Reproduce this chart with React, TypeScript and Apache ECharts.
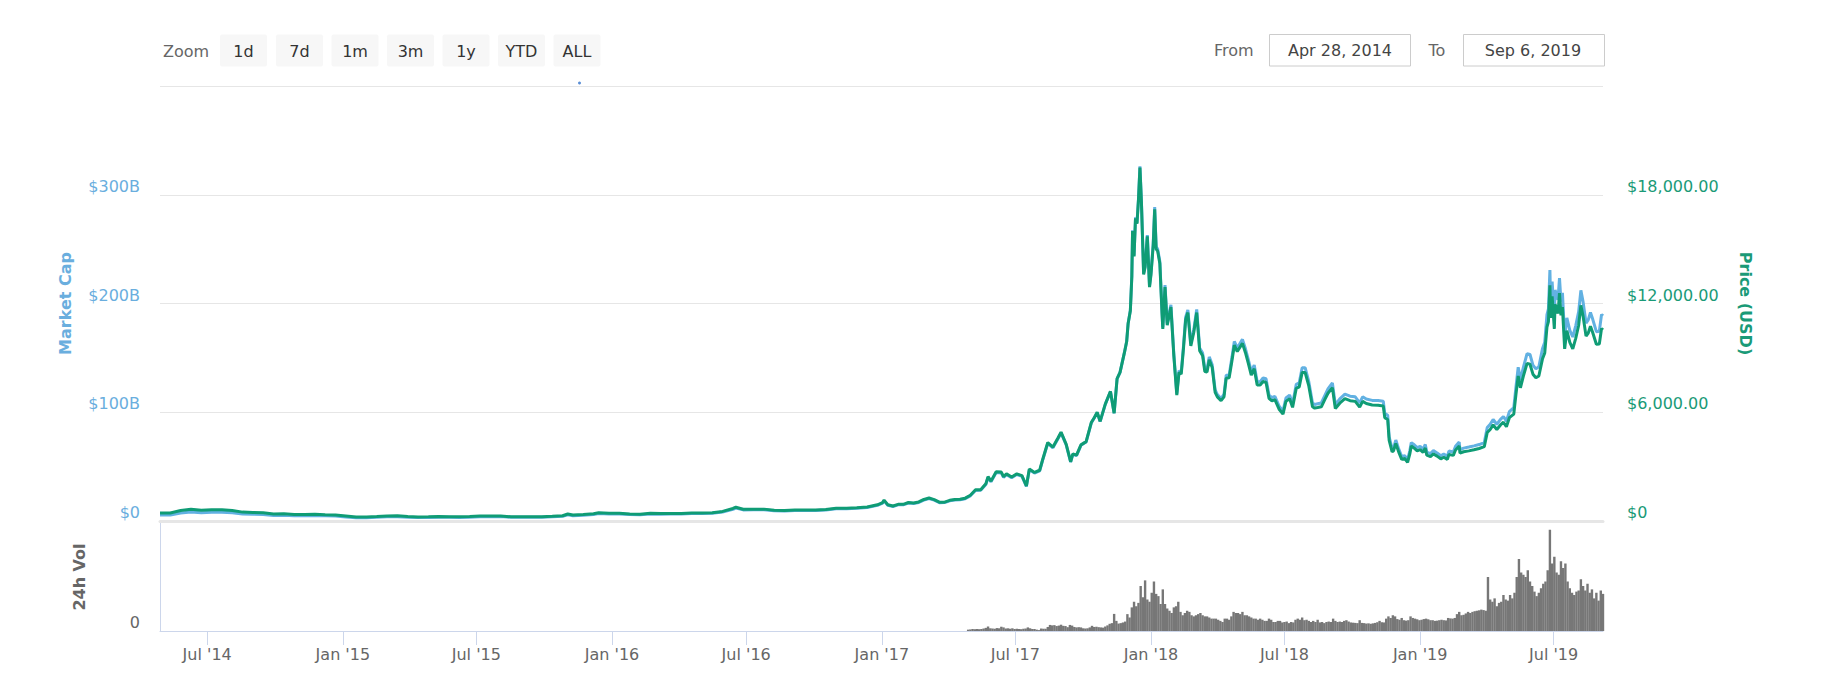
import React, { useEffect, useRef } from "react";
import * as echarts from "echarts";

// ---------- DATA ----------
const priceDates: string[] = [
  "2014-04-28","2014-05-12","2014-05-26","2014-06-09","2014-06-23","2014-07-07","2014-07-21","2014-08-04","2014-08-18","2014-09-01","2014-09-15","2014-09-29","2014-10-13","2014-10-27","2014-11-10","2014-11-24","2014-12-08","2014-12-22",
  "2015-01-05","2015-01-19","2015-02-02","2015-02-16","2015-03-02","2015-03-16","2015-03-30","2015-04-13","2015-04-27","2015-05-11","2015-05-25","2015-06-08","2015-06-22","2015-07-06","2015-07-20","2015-08-03","2015-08-17","2015-08-31","2015-09-14","2015-09-28","2015-10-12","2015-10-26","2015-11-02","2015-11-09","2015-11-23","2015-12-07","2015-12-14","2015-12-28",
  "2016-01-11","2016-01-25","2016-02-08","2016-02-22","2016-03-07","2016-03-21","2016-04-04","2016-04-18","2016-05-02","2016-05-16","2016-05-30","2016-06-13","2016-06-17","2016-06-27","2016-07-11","2016-07-25","2016-08-08","2016-08-22","2016-09-05","2016-09-19","2016-10-03","2016-10-17","2016-10-31","2016-11-14","2016-11-28","2016-12-12","2016-12-26",
  "2017-01-02","2017-01-04","2017-01-09","2017-01-16","2017-01-23","2017-01-30","2017-02-06","2017-02-13","2017-02-20","2017-02-27","2017-03-06","2017-03-13","2017-03-20","2017-03-27","2017-04-03","2017-04-10","2017-04-17","2017-04-24","2017-05-01","2017-05-08","2017-05-15","2017-05-22","2017-05-25","2017-05-29","2017-06-05","2017-06-12","2017-06-15","2017-06-19","2017-06-26","2017-07-03","2017-07-10","2017-07-16","2017-07-20","2017-07-27","2017-08-03","2017-08-07","2017-08-14","2017-08-21","2017-08-28","2017-09-01","2017-09-08","2017-09-14","2017-09-17","2017-09-22","2017-09-28","2017-10-05","2017-10-12","2017-10-16","2017-10-20","2017-10-24","2017-10-31","2017-11-07","2017-11-12","2017-11-16","2017-11-20","2017-11-26","2017-11-29","2017-12-01","2017-12-04","2017-12-06","2017-12-07","2017-12-09","2017-12-11","2017-12-13","2017-12-15","2017-12-17","2017-12-19","2017-12-22","2017-12-24","2017-12-27","2017-12-30",
  "2018-01-01","2018-01-04","2018-01-06","2018-01-08","2018-01-10","2018-01-13","2018-01-16","2018-01-17","2018-01-20","2018-01-23","2018-01-28","2018-02-01","2018-02-05","2018-02-08","2018-02-11","2018-02-14","2018-02-17","2018-02-20","2018-02-24","2018-02-28","2018-03-04","2018-03-08","2018-03-12","2018-03-15","2018-03-18","2018-03-21","2018-03-25","2018-03-29","2018-04-01","2018-04-06","2018-04-10","2018-04-13","2018-04-17","2018-04-21","2018-04-24","2018-04-28","2018-05-05","2018-05-09","2018-05-13","2018-05-17","2018-05-21","2018-05-25","2018-05-29","2018-06-02","2018-06-06","2018-06-10","2018-06-14","2018-06-18","2018-06-24","2018-06-29","2018-07-03","2018-07-08","2018-07-12","2018-07-17","2018-07-21","2018-07-25","2018-07-29","2018-08-03","2018-08-08","2018-08-11","2018-08-15","2018-08-20","2018-08-25","2018-08-29","2018-09-04","2018-09-08","2018-09-14","2018-09-21","2018-09-28","2018-10-05","2018-10-11","2018-10-15","2018-10-20","2018-10-28","2018-11-05","2018-11-12","2018-11-14","2018-11-18","2018-11-20","2018-11-24","2018-11-26","2018-11-29","2018-12-03","2018-12-07","2018-12-11","2018-12-15","2018-12-18","2018-12-20","2018-12-24","2018-12-28",
  "2019-01-01","2019-01-05","2019-01-08","2019-01-10","2019-01-15","2019-01-19","2019-01-24","2019-01-29","2019-02-02","2019-02-07","2019-02-09","2019-02-15","2019-02-18","2019-02-23","2019-02-24","2019-03-01","2019-03-08","2019-03-15","2019-03-22","2019-03-29","2019-04-02","2019-04-06","2019-04-10","2019-04-15","2019-04-20","2019-04-24","2019-04-28","2019-05-02","2019-05-08","2019-05-11","2019-05-14","2019-05-17","2019-05-21","2019-05-26","2019-05-30","2019-06-03","2019-06-07","2019-06-11","2019-06-16","2019-06-19","2019-06-22","2019-06-24","2019-06-26","2019-06-27","2019-06-29","2019-07-02","2019-07-03","2019-07-07","2019-07-09","2019-07-11","2019-07-13","2019-07-16","2019-07-19","2019-07-23","2019-07-27","2019-07-31","2019-08-04","2019-08-07","2019-08-10","2019-08-14","2019-08-17","2019-08-20","2019-08-23","2019-08-28","2019-09-01","2019-09-04","2019-09-06",
];

const priceUsd: number[] = [
  440,440,580,650,590,625,620,585,490,475,460,385,395,355,365,375,350,330,
  275,215,225,245,275,285,250,223,230,242,238,230,245,270,278,282,235,230,232,238,262,292,385,330,360,395,455,430,
  430,392,378,430,412,413,420,443,448,455,530,690,760,650,650,655,590,585,607,610,612,638,700,705,735,775,895,
  1020,1150,900,830,920,920,1020,995,1050,1190,1270,1180,1040,1040,1140,1185,1200,1260,1420,1720,1730,2050,2450,2200,2720,2700,2450,2600,2430,2600,2500,1930,2870,2680,2800,3380,4330,4080,4590,4900,4230,3270,3700,3630,4200,4380,5430,5700,6000,5500,6450,7150,5950,7850,8200,9300,9900,10900,11600,13500,16000,14600,16700,16400,17700,19500,17600,13600,14000,15700,12900,
  13600,15200,17200,15000,14900,14200,11400,10600,12900,10800,11800,9100,6950,8200,8100,9500,11100,11500,9660,10400,11500,9400,9120,8250,8220,8900,8470,7100,6850,6640,6850,7880,7900,8900,9700,9350,9800,9300,8700,8050,8400,7500,7500,7700,7650,6770,6630,6700,6150,5900,6600,6750,6270,7320,7400,8200,8200,7450,6300,6230,6260,6300,6720,7050,7360,6200,6500,6750,6640,6600,6280,6600,6480,6400,6380,6350,5700,5600,4450,3820,3880,4280,3800,3400,3450,3240,3700,4140,4020,3870,
  3940,3790,4030,3630,3550,3700,3580,3430,3520,3400,3670,3620,3920,4140,3740,3820,3870,3930,4000,4100,4880,5050,5300,5050,5300,5450,5200,5700,5900,7000,8000,7350,7990,8700,8650,8100,7900,8000,8950,9270,10700,11000,13000,11200,12400,10600,11960,11450,12570,11350,11800,9500,10500,9850,9500,10080,10800,11900,11300,10200,10370,10740,10400,9750,9760,10620,10550,
];

const marketCapB: number[] = [
  5.55,5.58,7.39,8.32,7.59,8.08,8.05,7.63,6.42,6.25,6.08,5.11,5.27,4.76,4.91,5.07,4.75,4.50,
  3.76,2.95,3.10,3.39,3.82,3.97,3.50,3.13,3.24,3.42,3.38,3.28,3.51,3.88,4.01,4.08,3.41,3.35,3.39,3.49,3.86,4.32,5.70,4.89,5.36,5.90,6.81,6.45,
  6.48,5.92,5.73,6.54,6.29,6.33,6.46,6.84,6.94,7.07,8.26,10.79,11.90,10.21,10.24,10.34,9.33,9.27,9.63,9.70,9.75,10.18,11.20,11.29,11.80,12.45,14.39,
  16.41,18.52,14.50,13.38,14.85,14.86,16.48,16.10,17.00,19.28,20.59,19.15,16.89,16.90,18.54,19.29,19.55,20.54,23.16,28.09,28.27,33.52,40.06,35.99,44.55,44.25,40.16,42.64,39.88,42.69,41.10,31.75,47.21,44.11,46.14,55.74,71.45,67.36,75.83,81.00,69.96,54.12,61.24,60.11,69.59,72.62,90.08,94.62,99.66,91.36,107.3,119.0,99.07,130.8,136.7,155.1,165.1,181.9,193.7,225.5,267.4,244.0,279.2,274.2,296.1,326.2,294.6,227.7,234.5,263.0,216.2,
  228.1,255.1,288.6,251.9,250.2,238.6,191.6,178.2,217.0,181.7,198.7,153.3,117.2,138.3,136.6,160.4,187.4,194.2,163.3,175.9,194.6,159.0,154.4,139.8,139.3,150.9,143.6,120.5,116.2,112.7,116.4,134.0,134.3,151.4,165.1,159.1,167.0,158.6,148.3,137.3,143.4,128.1,128.1,131.6,130.8,115.8,113.4,114.7,105.3,101.1,113.1,115.8,107.6,125.7,127.1,140.9,141.0,128.1,108.4,107.2,107.8,108.5,115.8,121.5,127.0,107.0,112.3,116.6,114.8,114.2,108.7,114.2,112.2,110.9,110.7,110.2,99.0,97.3,77.3,66.4,67.4,74.4,66.1,59.2,60.1,56.4,64.5,72.1,70.1,67.5,
  68.7,66.1,70.4,63.4,62.0,64.7,62.6,60.0,61.6,59.5,64.3,63.4,68.7,72.6,65.6,67.0,68.0,69.1,70.3,72.1,85.9,88.9,93.3,89.0,93.4,96.1,91.7,100.6,104.2,123.6,141.4,129.9,141.3,153.9,153.1,143.4,139.9,141.8,158.7,164.4,189.8,195.1,230.8,198.8,220.1,188.3,212.4,203.5,223.4,201.8,209.8,169.0,186.8,175.3,169.2,179.5,192.5,212.1,201.5,182.0,185.0,191.7,185.7,174.1,174.4,189.9,188.6,
];

// 24h volume, $B, one bar every 3 days from 2017-04-28
const volumeStart = [2017, 3, 28];
const volumeStepDays = 3;
const volumeB: number[] = [
  0.6,0.7,0.9,0.8,0.9,0.8,0.9,1.1,1.4,2.0,1.2,
  1.1,1.0,1.3,1.2,1.9,1.6,1.1,1.2,1.0,1.2,0.9,1.0,0.9,0.8,1.0,1.1,1.6,1.2,0.9,0.9,
  0.6,0.4,1.1,1.0,1.0,1.8,2.7,2.5,2.6,2.2,2.4,2.8,2.3,2.2,1.7,2.7,2.4,1.8,1.6,1.7,
  1.6,1.2,1.1,1.2,1.6,2.3,1.8,1.9,1.7,1.6,1.5,2.0,2.5,3.2,3.5,7.6,4.5,3.3,3.5,3.8,
  4.2,7.5,6.0,10.5,13.0,11.0,12.5,20.0,15.0,22.5,14.0,13.0,17.0,22.0,16.5,15.5,12.0,18.5,12.0,10.0,
  9.0,8.0,10.5,11.0,13.0,8.5,7.0,8.0,9.0,8.5,7.0,6.5,7.0,7.5,8.0,7.0,6.5,6.5,6.0,5.5,
  5.5,5.5,5.0,4.5,4.0,5.5,5.5,5.0,6.5,8.5,8.0,8.0,7.5,8.5,7.0,7.0,6.5,6.0,5.5,5.5,
  5.0,5.5,5.0,4.5,4.5,5.5,5.0,4.0,4.0,4.5,4.5,3.8,4.0,4.2,3.5,4.0,3.8,5.0,5.5,5.0,
  6.0,4.8,5.0,4.5,4.0,4.5,4.0,5.0,3.8,4.0,3.5,4.0,4.2,4.0,5.5,4.5,4.0,4.2,4.0,4.5,
  4.8,4.2,3.8,3.7,3.6,3.5,4.8,3.6,3.5,3.3,3.4,3.2,3.4,3.6,3.9,4.5,3.9,3.8,5.5,6.5,
  5.8,7.0,6.5,5.3,5.0,5.8,4.8,4.6,4.8,6.5,5.8,5.5,5.2,4.8,5.0,5.3,5.5,5.2,4.8,4.8,
  4.5,4.6,4.8,5.0,4.8,4.7,5.8,5.6,5.5,5.8,7.5,8.5,7.0,7.2,7.8,8.5,8.0,8.5,8.8,9.0,
  9.2,9.5,9.3,9.0,24.0,14.0,13.0,14.5,11.0,12.5,13.0,16.0,14.0,13.5,16.0,14.5,17.0,24.0,32.0,26.0,
  25.0,24.0,27.0,22.0,20.0,17.5,15.5,17.0,19.0,21.0,22.0,27.0,45.0,30.0,33.0,26.0,25.0,31.0,28.0,30.0,
  22.0,19.0,17.0,16.0,17.5,18.0,23.0,20.0,18.0,21.0,17.0,18.5,14.5,17.0,13.5,18.0,16.5,
];

const xTickDates: string[] = [
  "2014-07-01","2015-01-01","2015-07-01","2016-01-01","2016-07-01","2017-01-01",
  "2017-07-01","2018-01-01","2018-07-01","2019-01-01","2019-07-01",
];
const rangeStart = "2014-04-28";
const rangeEnd = "2019-09-06";
const zoomButtons: string[] = ["1d", "7d", "1m", "3m", "1y", "YTD", "ALL"];
const fromLabel = "Apr 28, 2014";
const toLabel = "Sep 6, 2019";

const MONTHS = ["Jan","Feb","Mar","Apr","May","Jun","Jul","Aug","Sep","Oct","Nov","Dec"];

// ---------- STYLE ----------
const FONT = "DejaVu Sans";
const BLUE = "#62b1e2";
const BLUE_TEXT = "#6aaede";
const GREEN = "#0f9c75";
const GREEN_TEXT = "#1a9a77";
const GRID_COLOR = "#e6e6e6";
const AXIS_COLOR = "#ccd6eb";

function ts(s: string): number {
  const [y, m, d] = s.split("-").map(Number);
  return new Date(y, m - 1, d).getTime();
}

function buildOption() {
  const mcapData = priceDates.map((d, i) => [ts(d), marketCapB[i]]);
  const priceData = priceDates.map((d, i) => [ts(d), priceUsd[i]]);
  const volData = volumeB.map((v, i) => [
    new Date(volumeStart[0], volumeStart[1], volumeStart[2] + i * volumeStepDays).getTime(),
    v,
  ]);
  const tickValues = xTickDates.map(ts);
  const minX = ts(rangeStart);
  const maxX = ts(rangeEnd);

  const L = 160;
  const R = 222;

  const graphic: any[] = [];
  graphic.push({
    type: "text", x: 163, y: 51,
    style: { text: "Zoom", fill: "#666", font: `16px "${FONT}"`, align: "left", verticalAlign: "middle" },
  });
  const btnX = [220, 276, 331.5, 387, 442.5, 498, 553.5];
  zoomButtons.forEach((b, i) => {
    graphic.push({
      type: "rect",
      shape: { x: btnX[i], y: 34.5, width: 47, height: 32, r: 2 },
      style: { fill: "#f7f7f7" },
    });
    graphic.push({
      type: "text", x: btnX[i] + 23.5, y: 51,
      style: { text: b, fill: "#333", font: `16px "${FONT}"`, align: "center", verticalAlign: "middle" },
    });
  });
  graphic.push({ type: "circle", shape: { cx: 579.5, cy: 83, r: 1.5 }, style: { fill: "#5b8fd6" } });
  graphic.push({
    type: "text", x: 1214, y: 50,
    style: { text: "From", fill: "#666", font: `16px "${FONT}"`, align: "left", verticalAlign: "middle" },
  });
  graphic.push({
    type: "rect", shape: { x: 1269.5, y: 34.5, width: 141, height: 31.5 },
    style: { fill: "#fff", stroke: "#cccccc", lineWidth: 1 },
  });
  graphic.push({
    type: "text", x: 1340, y: 50,
    style: { text: fromLabel, fill: "#444", font: `16px "${FONT}"`, align: "center", verticalAlign: "middle" },
  });
  graphic.push({
    type: "text", x: 1428.5, y: 50,
    style: { text: "To", fill: "#666", font: `16px "${FONT}"`, align: "left", verticalAlign: "middle" },
  });
  graphic.push({
    type: "rect", shape: { x: 1463.5, y: 34.5, width: 141, height: 31.5 },
    style: { fill: "#fff", stroke: "#cccccc", lineWidth: 1 },
  });
  graphic.push({
    type: "text", x: 1533, y: 50,
    style: { text: toLabel, fill: "#444", font: `16px "${FONT}"`, align: "center", verticalAlign: "middle" },
  });

  const fmtDate = (v: number) => {
    const d = new Date(v);
    return `${MONTHS[d.getMonth()]} '${String(d.getFullYear()).slice(2)}`;
  };

  return {
    animation: false,
    backgroundColor: "#ffffff",
    textStyle: { fontFamily: FONT },
    grid: [
      { left: L, right: R, top: 86, height: 435, containLabel: false, outerBoundsMode: "none" },
      { left: L, right: R, top: 523, height: 108, containLabel: false, outerBoundsMode: "none" },
    ],
    xAxis: [
      {
        type: "value", gridIndex: 0, min: minX, max: maxX, scale: true,
        axisLabel: { show: false }, axisTick: { show: false }, splitLine: { show: false },
        axisLine: { show: true, onZero: false, lineStyle: { color: GRID_COLOR, width: 3 } },
      },
      {
        type: "value", gridIndex: 1, min: minX, max: maxX, scale: true,
        splitLine: { show: false },
        axisLine: { show: true, onZero: false, lineStyle: { color: AXIS_COLOR, width: 1 } },
        axisTick: { show: true, length: 14, customValues: tickValues, lineStyle: { color: AXIS_COLOR } },
        axisLabel: {
          show: true, customValues: tickValues, margin: 15,
          color: "#666", fontSize: 16, fontFamily: FONT, hideOverlap: false,
          showMinLabel: true, showMaxLabel: true,
          formatter: (v: number) => fmtDate(v),
        },
      },
    ],
    yAxis: [
      {
        type: "value", gridIndex: 0, position: "left", min: 0, max: 400, interval: 100,
        name: "Market Cap", nameLocation: "middle", nameRotate: 90, nameGap: 87,
        nameTextStyle: { color: BLUE_TEXT, fontWeight: "bold", fontSize: 16, fontFamily: FONT },
        axisLine: { show: false }, axisTick: { show: false },
        splitLine: { show: true, lineStyle: { color: GRID_COLOR, width: 1 } },
        axisLabel: {
          color: BLUE_TEXT, fontSize: 16, fontFamily: FONT, margin: 20,
          verticalAlign: "bottom", lineHeight: 17,
          formatter: (v: number) => (v === 0 ? "$0" : v >= 400 ? "" : `$${v}B`),
        },
      },
      {
        type: "value", gridIndex: 0, position: "right", min: 0, max: 24000, interval: 6000,
        name: "Price (USD)", nameLocation: "middle", nameRotate: -90, nameGap: 134,
        nameTextStyle: { color: GREEN_TEXT, fontWeight: "bold", fontSize: 16, fontFamily: FONT },
        axisLine: { show: false }, axisTick: { show: false }, splitLine: { show: false },
        axisLabel: {
          color: GREEN_TEXT, fontSize: 16, fontFamily: FONT, margin: 24,
          verticalAlign: "bottom", lineHeight: 17,
          formatter: (v: number) =>
            v === 0 ? "$0" : v >= 24000 ? "" :
            "$" + v.toLocaleString("en-US", { minimumFractionDigits: 2, maximumFractionDigits: 2 }),
        },
      },
      {
        type: "value", gridIndex: 1, position: "left", min: 0, max: 48, interval: 48,
        name: "24h Vol", nameLocation: "middle", nameRotate: 90, nameGap: 73,
        nameTextStyle: { color: "#666", fontWeight: "bold", fontSize: 16, fontFamily: FONT },
        axisLine: { show: true, lineStyle: { color: AXIS_COLOR, width: 1 } },
        axisTick: { show: false }, splitLine: { show: false },
        axisLabel: {
          color: "#666", fontSize: 16, fontFamily: FONT, margin: 20,
          verticalAlign: "bottom", lineHeight: 17,
          formatter: (v: number) => (v === 0 ? "0" : ""),
        },
      },
    ],
    series: [
      {
        name: "Market Cap", type: "line", xAxisIndex: 0, yAxisIndex: 0, data: mcapData,
        showSymbol: false, symbol: "none", lineStyle: { color: BLUE, width: 3 }, itemStyle: { color: BLUE },
        z: 2,
      },
      {
        name: "Price", type: "line", xAxisIndex: 0, yAxisIndex: 1, data: priceData,
        showSymbol: false, symbol: "none", lineStyle: { color: GREEN, width: 3 }, itemStyle: { color: GREEN },
        z: 3,
      },
      {
        name: "24h Vol", type: "bar", xAxisIndex: 1, yAxisIndex: 2, data: volData,
        barWidth: 2.4, itemStyle: { color: "#777777" },
      },
    ],
    graphic,
  };
}

export default function App() {
  const ref = useRef<HTMLDivElement>(null);
  useEffect(() => {
    if (!ref.current) return;
    const chart = echarts.init(ref.current, null, { renderer: "svg" });
    chart.setOption(buildOption() as any);
    return () => chart.dispose();
  }, []);
  return (
    <div
      ref={ref}
      style={{ position: "fixed", left: 0, top: 0, width: 1825, height: 680, background: "#fff" }}
    />
  );
}
